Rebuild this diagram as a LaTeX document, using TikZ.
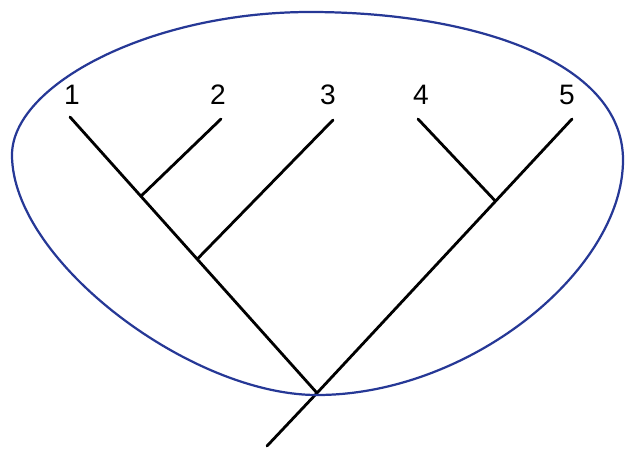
\documentclass[tikz,border=0pt]{standalone}
\usepackage{fontspec}
\setmainfont{Liberation Sans}
\usetikzlibrary{calc}
\definecolor{cladeblue}{RGB}{38,56,150}
\begin{document}
\begin{tikzpicture}[x=0.03cm,y=-0.03cm,
	branch/.style={line width=2.4pt,line cap=round},
	taxon/.style={font=\fontsize{24}{28}\selectfont,inner sep=0pt}]
		\useasboundingbox (0,0) rectangle (627,452);
		% leaves and labels
		\node[taxon] (n1) at (72,95) {1};
		\node[taxon] (n2) at (218,95) {2};
		\node[taxon] (n3) at (328,95) {3};
		\node[taxon] (n4) at (421,95) {4};
		\node[taxon] (n5) at (567,95) {5};
		\coordinate (t1) at (70,117);
		\coordinate (t2) at (221,119);
		\coordinate (t3) at (333,120);
		\coordinate (t4) at (418,119);
		\coordinate (t5) at (572,119);
		\coordinate (root) at (317,393);
		\coordinate (base) at (267,446);
		\coordinate (j12) at ($(t1)!0.287!(root)$);
		\coordinate (j123) at ($(t1)!0.515!(root)$);
		\coordinate (j45) at ($(t5)!0.3!(root)$);
		% the tree
		\draw[branch] (t1) -- (root);
		\draw[branch] (t5) -- (root);
		\draw[branch] (t2) -- (j12);
		\draw[branch] (t3) -- (j123);
		\draw[branch] (t4) -- (j45);
		\draw[branch] (root) -- (base);
		% the clade
		\draw[cladeblue,line width=1.9pt] (310,12)
		.. controls (470,12) and (623,60) .. (623,160)
		.. controls (623,270) and (470,395) .. (317,395)
		.. controls (190,395) and (12,260) .. (12,155)
		.. controls (12,85) and (150,12) .. cycle;
	\end{tikzpicture}
\end{document}
